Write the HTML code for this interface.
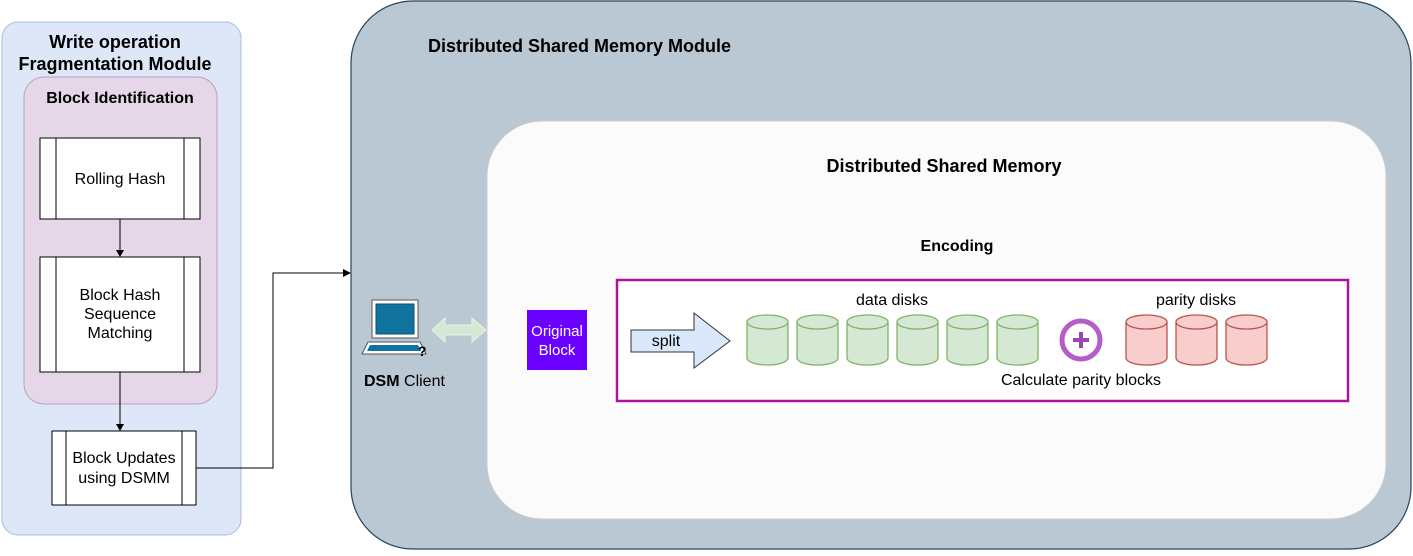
<!DOCTYPE html>
<html><head><meta charset="utf-8"><style>
html,body{margin:0;padding:0;background:#fff}
text{font-family:"Liberation Sans",Arial,sans-serif}
</style></head><body>
<svg width="1413" height="551" viewBox="0 0 1413 551" xmlns="http://www.w3.org/2000/svg">
<defs>
<g id="cg"><path d="M0,7 v36 a20.5,7 0 0 0 41,0 v-36" fill="#d5e8d4" stroke="#82b366" stroke-width="1.3"/><ellipse cx="20.5" cy="7" rx="20.5" ry="7" fill="#d5e8d4" stroke="#82b366" stroke-width="1.3"/></g>
<g id="cr"><path d="M0,7 v36 a20.5,7 0 0 0 41,0 v-36" fill="#f8cecc" stroke="#b85450" stroke-width="1.3"/><ellipse cx="20.5" cy="7" rx="20.5" ry="7" fill="#f8cecc" stroke="#b85450" stroke-width="1.3"/></g>
</defs>
<!-- left module -->
<rect x="2" y="22" width="239" height="513" rx="16" fill="#dee7f7" stroke="#a9bcdc"/>
<text x="115" y="48" font-size="18" font-weight="bold" text-anchor="middle">Write operation</text>
<text x="115" y="70" font-size="18" font-weight="bold" text-anchor="middle">Fragmentation Module</text>
<rect x="24" y="77" width="193" height="327" rx="20" fill="#e5d7e7" stroke="#b8a2c0"/>
<text x="120" y="103" font-size="16" font-weight="bold" text-anchor="middle">Block Identification</text>
<rect x="40" y="138" width="160" height="81" fill="#fff" stroke="#000"/>
<line x1="56" y1="138" x2="56" y2="219" stroke="#000"/><line x1="184" y1="138" x2="184" y2="219" stroke="#000"/>
<text x="120" y="184" font-size="16" text-anchor="middle">Rolling Hash</text>
<line x1="120" y1="219" x2="120" y2="251" stroke="#000"/><path d="M116,250 L120,257 L124,250Z"/>
<rect x="40" y="257" width="160" height="115" fill="#fff" stroke="#000"/>
<line x1="56" y1="257" x2="56" y2="372" stroke="#000"/><line x1="184" y1="257" x2="184" y2="372" stroke="#000"/>
<text x="120" y="300" font-size="16" text-anchor="middle">Block Hash</text>
<text x="120" y="319" font-size="16" text-anchor="middle">Sequence</text>
<text x="120" y="338" font-size="16" text-anchor="middle">Matching</text>
<line x1="120" y1="372" x2="120" y2="425" stroke="#000"/><path d="M116,424 L120,431 L124,424Z"/>
<rect x="52" y="431" width="144" height="74" fill="#fff" stroke="#000"/>
<line x1="66" y1="431" x2="66" y2="505" stroke="#000"/><line x1="182" y1="431" x2="182" y2="505" stroke="#000"/>
<text x="124" y="463" font-size="16" text-anchor="middle">Block Updates</text>
<text x="124" y="483" font-size="16" text-anchor="middle">using DSMM</text>
<polyline points="196,468 273,468 273,273 344,273" fill="none" stroke="#000"/><path d="M343,269 L351,273 L343,277Z"/>
<!-- DSMM -->
<rect x="351" y="1" width="1060" height="548" rx="62" fill="#bac8d3" stroke="#23445d" stroke-width="1.2"/>
<text x="428" y="52" font-size="18" font-weight="bold">Distributed Shared Memory Module</text>
<rect x="487" y="121" width="899" height="398" rx="55" fill="#fbfbfb" stroke="#ccc"/>
<text x="944" y="172" font-size="18" font-weight="bold" text-anchor="middle">Distributed Shared Memory</text>
<text x="957" y="251" font-size="16" font-weight="bold" text-anchor="middle">Encoding</text>
<rect x="617" y="280" width="731" height="121" fill="#fff" stroke="#a8169e" stroke-width="2.5"/>
<rect x="527" y="310" width="60" height="60" fill="#6a00ff"/>
<text x="557" y="336" font-size="15" fill="#fff" text-anchor="middle">Original</text>
<text x="557" y="355" font-size="15" fill="#fff" text-anchor="middle">Block</text>
<path d="M631,330 H694 V313 L730,341 L694,368 V352 H631Z" fill="#dae8fc" stroke="#333"/>
<text x="666" y="346" font-size="16" text-anchor="middle">split</text>
<text x="892" y="305" font-size="16" text-anchor="middle">data disks</text>
<text x="1196" y="305" font-size="16" text-anchor="middle">parity disks</text>
<use href="#cg" x="747" y="315"/><use href="#cg" x="797" y="315"/><use href="#cg" x="847" y="315"/>
<use href="#cg" x="897" y="315"/><use href="#cg" x="947" y="315"/><use href="#cg" x="997" y="315"/>
<use href="#cr" x="1126" y="315"/><use href="#cr" x="1176" y="315"/><use href="#cr" x="1226" y="315"/>
<circle cx="1081" cy="340" r="19" fill="#fff" stroke="#b45cc8" stroke-width="5"/>
<path d="M1081,332 V348 M1073,340 H1089" stroke="#9d45b5" stroke-width="4"/>
<text x="1081" y="385" font-size="16" text-anchor="middle">Calculate parity blocks</text>
<!-- computer -->
<rect x="372" y="300" width="46" height="38" fill="#fff" stroke="#555"/>
<rect x="376" y="304" width="38" height="30" fill="#10739e" stroke="#0a4f70"/>
<path d="M368,342 H420 L426,354 H362Z" fill="#fff" stroke="#555"/>
<path d="M370,345 H418 L421,351 H367Z" fill="#10739e"/>
<text x="418" y="356" font-size="14" font-weight="bold">?</text>
<path d="M432,330 L445,318 V325 H472 V318 L486,330 L472,342 V335 H445 V342Z" fill="#d5e8d4" stroke="#e8f0e6"/>
<text x="364" y="386" font-size="16"><tspan font-weight="bold">DSM</tspan> Client</text>
</svg>
</body></html>
